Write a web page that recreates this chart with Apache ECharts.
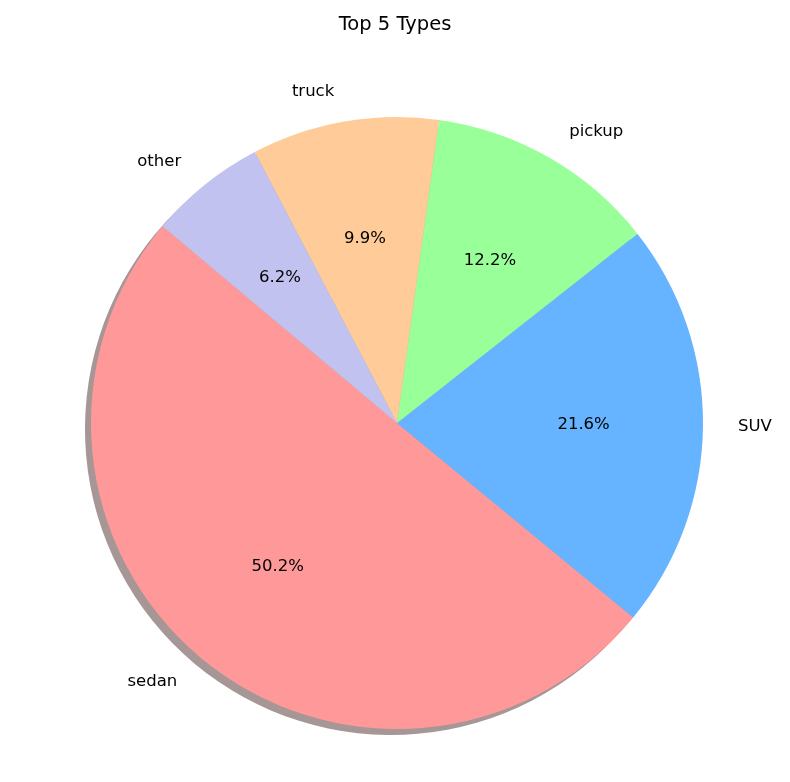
<!DOCTYPE html>
<html>
<head>
<meta charset="utf-8">
<script src="https://cdn.jsdelivr.net/npm/echarts@6/dist/echarts.min.js"></script>
<style>
  html, body { margin: 0; padding: 0; background: #fff; }
  #chart { width: 790px; height: 782px; }
</style>
</head>
<body>
<div id="chart"></div>
<script>
// data
const types = ['sedan', 'SUV', 'pickup', 'truck', 'other']
const shares = [50.2, 21.6, 12.2, 9.9, 6.2]
const colors = ['#ff9999', '#66b3ff', '#99ff99', '#ffcc99', '#c2c2f0']
const shadowColors = ['#a69696', '#8fa5bb', '#a5bba5', '#bbaa9c', '#a9a9b9']

const cx = 397
const cy = 423
const r = 306
const font = 'DejaVu Sans'

const chart = echarts.init(document.getElementById('chart'))

const slices = types.map((name, i) => ({
  name,
  value: shares[i],
  itemStyle: { color: colors[i] }
}))

chart.setOption({
  animation: false,
  title: {
    text: 'Top 5 Types',
    left: 'center',
    top: 10,
    textStyle: { fontFamily: font, fontSize: 19.5, fontWeight: 'normal', color: '#000' }
  },
  series: [
    {
      // drop shadow, like matplotlib shadow=True
      type: 'pie',
      silent: true,
      center: [cx - 6, cy + 6],
      radius: [0, r],
      startAngle: 140,
      clockwise: false,
      label: { show: false },
      labelLine: { show: false },
      data: types.map((name, i) => ({
        name,
        value: shares[i],
        itemStyle: { color: shadowColors[i] }
      }))
    },
    {
      type: 'pie',
      center: [cx, cy],
      radius: [0, r],
      startAngle: 140,
      clockwise: false,
      itemStyle: { borderWidth: 0 },
      label: {
        show: true,
        position: 'outside',
        formatter: '{b}',
        fontFamily: font,
        fontSize: 16.5,
        color: '#000'
      },
      labelLine: { show: false, length: 30, length2: 0 },
      avoidLabelOverlap: false,
      data: slices
    },
    {
      // percentages at 0.6 of the radius
      type: 'pie',
      silent: true,
      center: [cx, cy],
      radius: [r * 0.2, r],
      startAngle: 140,
      clockwise: false,
      itemStyle: { color: 'transparent' },
      label: {
        show: true,
        position: 'inside',
        formatter: (p) => p.value.toFixed(1) + '%',
        fontFamily: font,
        fontSize: 16.5,
        color: '#000'
      },
      labelLine: { show: false },
      data: types.map((name, i) => ({ name, value: shares[i] }))
    }
  ]
})
</script>
</body>
</html>
